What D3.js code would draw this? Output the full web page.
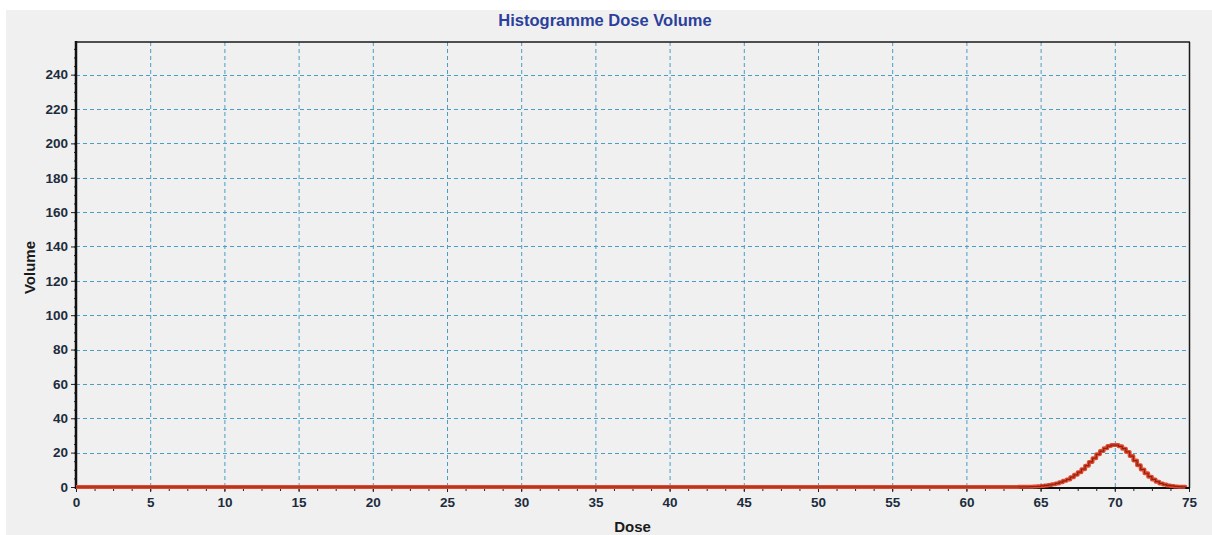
<!DOCTYPE html>
<html>
<head>
<meta charset="utf-8">
<script src="https://cdn.jsdelivr.net/npm/d3@7"></script>
<style>
html,body{margin:0;padding:0;background:#ffffff;}
svg{display:block;}
text{font-family:"Liberation Sans",Arial,sans-serif;}
</style>
</head>
<body>
<svg id="chart" width="1212" height="535"></svg>
<script>
const title = "Histogramme Dose Volume";
const xLabel = "Dose";
const yLabel = "Volume";
const xTicks = [0,5,10,15,20,25,30,35,40,45,50,55,60,65,70,75];
const yTicks = [0,20,40,60,80,100,120,140,160,180,200,220,240];
const doses = [0,63.5,63.75,64,64.25,64.5,64.75,65,65.25,65.5,65.75,66,66.25,66.5,66.75,67,67.25,67.5,67.75,68,68.25,68.5,68.75,69,69.25,69.5,69.75,70,70.25,70.5,70.75,71,71.25,71.5,71.75,72,72.25,72.5,72.75,73,73.25,73.5,73.75,74,74.25,74.5,74.75];
const volumes = [0,0.1,0.1,0.1,0.2,0.3,0.4,0.6,0.9,1.2,1.6,2.1,2.8,3.6,4.4,5.7,7.1,8.6,10.4,12.4,14.6,16.8,19.0,20.9,22.5,23.8,24.4,24.4,23.7,22.3,20.4,18.0,15.4,12.7,10.2,8.0,6.0,4.4,3.1,2.1,1.4,0.9,0.6,0.35,0.2,0.1,0];

const svg = d3.select("#chart");
svg.append("rect").attr("x",6).attr("y",10).attr("width",1206).attr("height",525).attr("fill","#f0f0f0");

const L=76, R=1189, T=42, B=487;
const x = d3.scaleLinear().domain([0,75]).range([L,R]);
const y = d3.scaleLinear().domain([0,259]).range([B,T]);

// gridlines
const grid = svg.append("g");
grid.selectAll("line.v").data(xTicks.filter(d=>d>0)).enter().append("line")
  .attr("x1",d=>x(d)+0.5).attr("x2",d=>x(d)+0.5).attr("y1",T).attr("y2",B)
  .attr("stroke","#4a9ec6").attr("stroke-width",1).attr("stroke-dasharray","4,3");
grid.selectAll("line.h").data(yTicks.filter(d=>d>0)).enter().append("line")
  .attr("x1",L).attr("x2",R+1).attr("y1",d=>Math.round(y(d))+0.5).attr("y2",d=>Math.round(y(d))+0.5)
  .attr("stroke","#4a9ec6").attr("stroke-width",1).attr("stroke-dasharray","4,3");

// frame
svg.append("line").attr("x1",L).attr("x2",R+1).attr("y1",T).attr("y2",T).attr("stroke","#1a1a1a").attr("stroke-width",1.5);
svg.append("line").attr("x1",R+0.5).attr("x2",R+0.5).attr("y1",T).attr("y2",B+1).attr("stroke","#1a1a1a").attr("stroke-width",1.5);

// axes
const xAxis = d3.axisBottom(x).tickValues(xTicks).tickSize(4).tickPadding(5).tickFormat(d3.format("d"));
const xMinor = d3.axisBottom(x).tickValues(d3.range(0,75.01,1.25)).tickSize(3).tickFormat("");
const yAxis = d3.axisLeft(y).tickValues(yTicks).tickSize(4).tickPadding(3).tickFormat(d3.format("d"));
const yMinor = d3.axisLeft(y).tickValues(d3.range(0,256,5)).tickSize(2).tickFormat("");

function styleAxis(g){
  g.select(".domain").remove();
  g.selectAll(".tick line").attr("stroke","#222");
  g.selectAll(".tick text").attr("fill","#1c2c3c").attr("font-size","13.5px").attr("font-weight","bold");
}
svg.append("g").attr("transform",`translate(0,${B+1})`).call(xMinor).call(styleAxis);
svg.append("g").attr("transform",`translate(0,${B+1})`).call(xAxis).call(styleAxis);
svg.append("g").attr("transform",`translate(${L},0)`).call(yMinor).call(styleAxis);
svg.append("g").attr("transform",`translate(${L-1},0)`).call(yAxis).call(styleAxis);

svg.append("line").attr("x1",L).attr("x2",R+1).attr("y1",B+1).attr("y2",B+1).attr("stroke","#111").attr("stroke-width",2);
svg.append("line").attr("x1",L).attr("x2",L).attr("y1",T-1).attr("y2",B+2).attr("stroke","#111").attr("stroke-width",2.5);

// curve
const line = d3.line().x((d,i)=>x(doses[i])).y(d=>y(d)).curve(d3.curveStepAfter);
svg.append("path").datum(volumes).attr("d",line).attr("fill","none").attr("stroke","#e4482c").attr("stroke-width",4).attr("stroke-linejoin","round");
svg.append("path").datum(volumes).attr("d",line).attr("fill","none").attr("stroke","#8a2414").attr("stroke-width",1.2).attr("stroke-linejoin","round");

// titles
svg.append("text").attr("x",605).attr("y",26).attr("text-anchor","middle").attr("font-size","16.5px").attr("font-weight","bold").attr("fill","#2b3f9c").text(title);
svg.append("text").attr("x",x(37.5)).attr("y",532).attr("text-anchor","middle").attr("font-size","15px").attr("font-weight","bold").attr("fill","#1a1a1a").text(xLabel);
svg.append("text").attr("transform",`translate(35,${(T+B)/2+3}) rotate(-90)`).attr("text-anchor","middle").attr("font-size","15px").attr("font-weight","bold").attr("fill","#1a1a1a").text(yLabel);
</script>
</body>
</html>
